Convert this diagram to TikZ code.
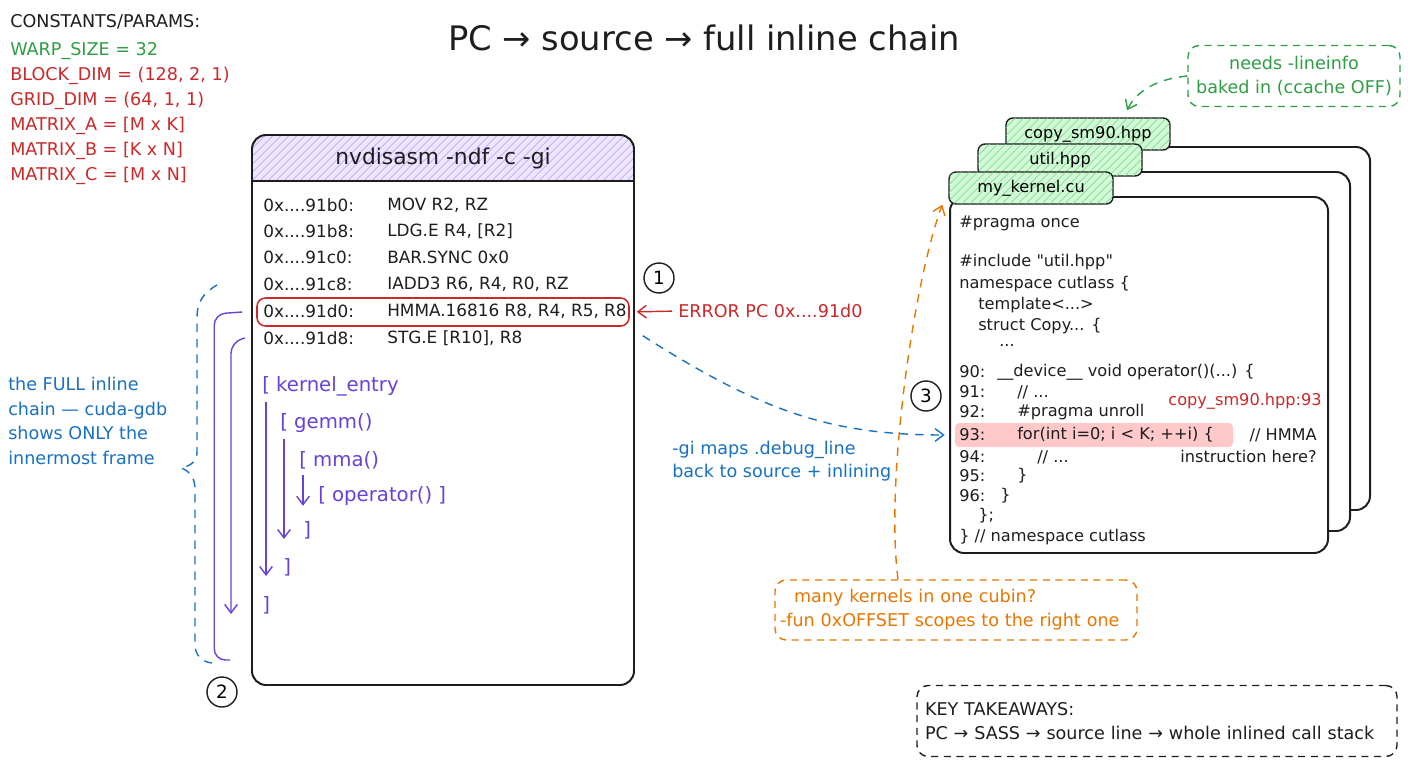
\documentclass[tikz,border=0pt]{standalone}
\usepackage{fontspec}
\setmainfont{DejaVu Sans}[Ligatures=TeXOff]
\usetikzlibrary{arrows.meta,positioning,patterns.meta}
\definecolor{ink}{HTML}{1E1E1E}
\definecolor{cgreen}{HTML}{2F9E44}
\definecolor{cred}{HTML}{C92A2A}
\definecolor{cblue}{HTML}{1971C2}
\definecolor{cpurple}{HTML}{6741D9}
\definecolor{corange}{HTML}{E67700}
\definecolor{hdrfill}{HTML}{EEE6FF}
\definecolor{hdrhatch}{HTML}{B197FC}
\definecolor{tabfill}{HTML}{D3F9D8}
\definecolor{tabhatch}{HTML}{69DB7C}
\definecolor{hilite}{HTML}{FFC9C9}
\tikzset{every node/.append style={inner sep=0pt}}
\tikzset{
  const/.style={anchor=west, font=\fontsize{12.5}{15}\selectfont},
  asm/.style={anchor=west, text=ink, font=\fontsize{12}{14}\selectfont},
  chain/.style={anchor=west, text=cpurple, font=\fontsize{14}{16}\selectfont},
  barb/.style={-{Straight Barb[length=6pt,width=9pt]}},
  chainarrow/.style={cpurple, line width=1pt, barb},
  chainline/.style={cpurple, line width=1pt, rounded corners=8pt},
  code/.style={anchor=west, text=ink, font=\fontsize{11.5}{14}\selectfont},
  panel/.style={draw=ink, fill=white, line width=1.4pt, rounded corners=10pt},
  filetab/.style={draw=ink, line width=1pt, rounded corners=5pt, fill=tabfill,
    postaction={pattern={Lines[angle=45,distance=4pt,line width=0.5pt]}, pattern color=tabhatch},
    minimum width=41mm, minimum height=8mm, font=\fontsize{11.5}{13}\selectfont},
  badge/.style={circle, draw=ink, line width=1pt, minimum size=7.5mm, font=\fontsize{13}{13}\selectfont},
  note/.style={dashed, dash pattern=on 5pt off 4pt, line width=1pt, rounded corners=8pt, font=\fontsize{12.5}{17}\selectfont},
  link/.style={line width=1pt, dashed, dash pattern=on 6pt off 5pt, barb},
}

\begin{document}
\begin{tikzpicture}[x=0.25mm, y=-0.25mm]
  \fill[white] (0,0) rectangle (1408,768);
  \useasboundingbox (0,0) rectangle (1408,768);
  \node[text=ink, font=\fontsize{24}{28}\selectfont] (title) at (704,38) {PC → source → full inline chain};

  \node[const, text=ink] (cparams) at (10,22) {CONSTANTS/PARAMS:};
  \node[const, text=cgreen] (cwarp) at (10,51) {WARP\_SIZE = 32};
  \node[const, text=cred] (cblock) at (10,76) {BLOCK\_DIM = (128, 2, 1)};
  \node[const, text=cred] (cgrid) at (10,101) {GRID\_DIM = (64, 1, 1)};
  \node[const, text=cred] (cmata) at (10,126) {MATRIX\_A = [M x K]};
  \node[const, text=cred] (cmatb) at (10,151) {MATRIX\_B = [K x N]};
  \node[const, text=cred] (cmatc) at (10,176) {MATRIX\_C = [M x N]};

  \begin{scope}
    \clip[rounded corners=10pt] (252,135) rectangle (634,685);
    \fill[hdrfill] (252,135) rectangle (634,181);
    \fill[pattern={Lines[angle=45,distance=4pt,line width=0.5pt]}, pattern color=hdrhatch] (252,135) rectangle (634,181);
  \end{scope}
  \draw[ink, line width=1.4pt] (252,181) -- (634,181);
  \draw[panel, fill=none] (252,135) rectangle (634,685);
  \node[text=ink, font=\fontsize{15.5}{18}\selectfont] (hdr) at (443,158) {nvdisasm -ndf -c -gi};

  \node[asm] (a1) at (263,205) {0x....91b0:};
  \node[asm] (i1) at (387,205) {MOV R2, RZ};
  \node[asm] (a2) at (263,231) {0x....91b8:};
  \node[asm] (i2) at (387,231) {LDG.E R4, [R2]};
  \node[asm] (a3) at (263,257) {0x....91c0:};
  \node[asm] (i3) at (387,257) {BAR.SYNC 0x0};
  \node[asm] (a4) at (263,284) {0x....91c8:};
  \node[asm] (i4) at (387,284) {IADD3 R6, R4, R0, RZ};
  \node[draw=cred, line width=1.1pt, rounded corners=6pt, minimum width=93mm, minimum height=7mm] (hmma) at (443,312) {};
  \node[asm] (a5) at (263,311) {0x....91d0:};
  \node[asm] (i5) at (387,311) {HMMA.16816 R8, R4, R5, R8};
  \node[asm] (a6) at (263,338) {0x....91d8:};
  \node[asm] (i6) at (387,338) {STG.E [R10], R8};

  \node[chain] (kentry) at (262,386) {[ kernel\_entry};
  \node[chain] (gemm) at (280,423) {[ gemm()};
  \node[chain] (mma) at (299,460) {[ mma()};
  \node[chain] (op) at (318,496) {[ operator() ]};
  \node[chain] (mclose) at (303,530) {]};
  \node[chain] (gclose) at (283,567) {]};
  \node[chain] (kclose) at (262,605) {]};
  \draw[chainarrow] ([xshift=1mm,yshift=-1.5mm]kentry.south west) -- ([xshift=1mm]kentry.south west |- gclose.south);
  \draw[chainarrow] ([xshift=1mm,yshift=-1.5mm]gemm.south west) -- ([xshift=1mm]gemm.south west |- mclose.south);
  \draw[chainarrow] ([xshift=1mm,yshift=-1.5mm]mma.south west) -- ([xshift=1mm]mma.south west |- op.south);

  \draw[chainline] ([xshift=-3.5mm]hmma.west) -- ++(-28,2) -- ++(0,346) -- ++(16,0);
  \draw[chainline, barb] ([xshift=-4.5mm]a6.west) -- ++(-14,4) -- ++(0,272);
  \draw[cblue, line width=1pt, dashed, dash pattern=on 6pt off 5pt] (217,285) .. controls (205,292) and (197,300) .. (197,318) -- (197,452) .. controls (197,462) and (190,466) .. (181,468) .. controls (190,471) and (195,478) .. (195,490) -- (195,645) .. controls (195,655) and (202,662) .. (212,663);
  \node[anchor=west, text=cblue, align=left, font=\fontsize{12.5}{17.4}\selectfont] (fullchain) at (8,421) {the FULL inline\\chain — cuda-gdb\\shows ONLY the\\innermost frame};

  \node[badge] (n1) at (659,278) {1};
  \node[badge] (n2) at (222,692) {2};
  \node[anchor=west, text=cred, font=\fontsize{12.5}{15}\selectfont] (errpc) at (678,311) {ERROR PC 0x....91d0};
  \draw[cred, line width=1pt, barb, shorten <=1.5mm, shorten >=1.75mm] (errpc.west) -- (hmma.east);

  \draw[panel] (1006,147) rectangle (1370,510);
  \node[filetab] (copytab) at (1088,134) {copy\_sm90.hpp};
  \draw[panel] (978,172) rectangle (1350,531);
  \node[filetab] (utiltab) at (1060,160) {util.hpp};
  \draw[panel] (950,197) rectangle (1328,553);
  \node[filetab] (kerneltab) at (1031,188) {my\_kernel.cu};

  \node[fill=hilite, rounded corners=3pt, minimum width=69.5mm, minimum height=6mm] (line93) at (1094,435) {};
  \node[code] (src1) at (959,223) {\#pragma once};
  \node[code] (src2) at (959,262) {\#include "util.hpp"};
  \node[code] (src3) at (959,284) {namespace cutlass \{};
  \node[code] (src4) at (978,305) {template<...>};
  \node[code] (src5) at (978,326) {struct Copy... \{};
  \node[code] (src6) at (999,345) {...};
  \node[code] (ln90) at (959,372) {90:};
  \node[code] (src90) at (997,372) {\_\_device\_\_ void operator()(...) \{};
  \node[code] (ln91) at (959,392) {91:};
  \node[code] (src91) at (1017,392) {// ...};
  \node[code] (ln92) at (959,412) {92:};
  \node[code] (src92) at (1017,412) {\#pragma unroll};
  \node[code] (ln93) at (959,435) {93:};
  \node[code] (src93) at (1017,435) {for(int i=0; i < K; ++i) \{};
  \node[code] (ln94) at (959,457) {94:};
  \node[code] (src94) at (1037,457) {// ...};
  \node[code] (ln95) at (959,476) {95:};
  \node[code] (src95) at (1017,476) {\}};
  \node[code] (ln96) at (959,496) {96:};
  \node[code] (src96) at (1000,496) {\}};
  \node[code] (src97) at (978,516) {\};};
  \node[code] (src98) at (959,537) {\} // namespace cutlass};
  \node[code, anchor=east, align=right, font=\fontsize{11.5}{15.6}\selectfont] (hmmanote) at (1317,446) {// HMMA\\instruction here?};
  \node[code, anchor=east, text=cred] (srcref) at (1322,401) {copy\_sm90.hpp:93};
  \node[badge] (n3) at (926,396) {3};

  \node[anchor=west, text=cblue, align=left, font=\fontsize{12.5}{16.5}\selectfont] (gimap) at (672,461) {-gi maps .debug\_line\\back to source + inlining};
  \draw[link, cblue, shorten >=2.5mm] ([xshift=3.25mm,yshift=-2.25mm]hmma.south east) .. controls +(118,75) and +(-125,0) .. (line93.west);

  \node[note, draw=cgreen, text=cgreen, align=center, minimum width=53mm, minimum height=15.25mm] (lineinfo) at (1294,76) {needs -lineinfo\\baked in (ccache OFF)};
  \draw[link, cgreen] (lineinfo.west) .. controls +(-30,3) and +(10,-20) .. ([xshift=9.75mm,yshift=1.75mm]copytab.north);

  \node[note, draw=corange, text=corange, align=left, text width=88mm, minimum width=90.5mm, minimum height=15mm] (cubin) at (956,610) {\hspace*{3.5mm}many kernels in one cubin?\\-fun 0xOFFSET scopes to the right one};
  \draw[link, corange] ([xshift=-14.5mm]cubin.north) .. controls +(-13,-100) and +(-28,75) .. ([xshift=-1.5mm]kerneltab.south west);

  \node[note, draw=ink, text=ink, align=left, text width=116mm, minimum width=120mm, minimum height=17.75mm, font=\fontsize{12.5}{17}\selectfont] (takeaways) at (1157,721) {KEY TAKEAWAYS:\\PC → SASS → source line → whole inlined call stack};
\end{tikzpicture}
\end{document}
